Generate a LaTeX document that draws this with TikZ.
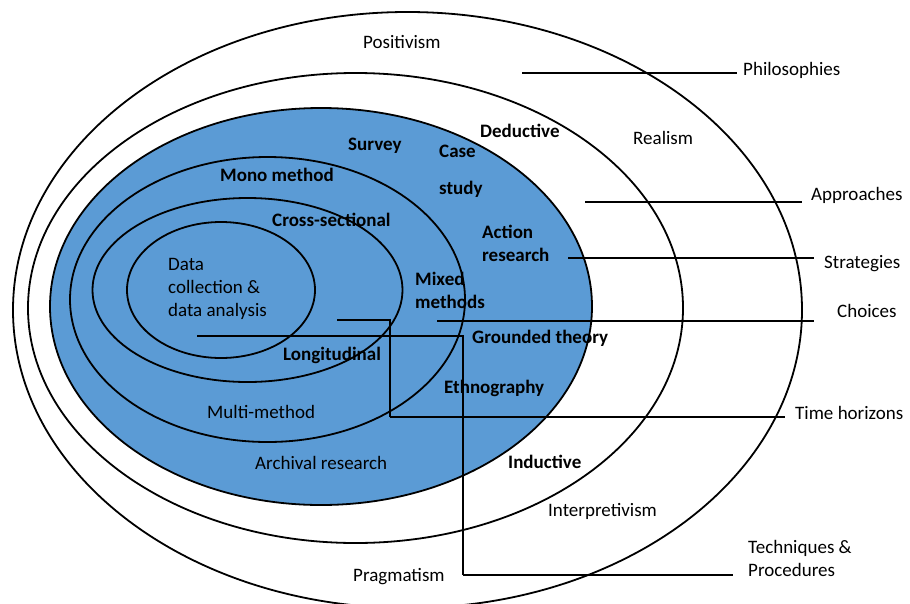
\documentclass[tikz,border=0pt]{standalone}
\usepackage{fontspec}
\setmainfont{Carlito}
\definecolor{onionblue}{RGB}{91,155,213}
\tikzset{
  ring/.style={draw=black, line width=1.8pt},
  lbl/.style={inner sep=0pt, anchor=west, align=left, font=\fontsize{19}{23}\selectfont},
  bld/.style={lbl, font=\fontsize{19}{23}\selectfont\bfseries},
  tag/.style={lbl},
  link/.style={draw=black, line width=2pt, line join=miter},
}
\begin{document}
\begin{tikzpicture}[x=1pt, y=-1pt]
\useasboundingbox (0,0) rectangle (910,603);

% nested layers of the onion
\draw[ring] (407.5,310) ellipse [x radius=394.5pt, y radius=298pt];
\draw[ring] (355.5,308) ellipse [x radius=327.5pt, y radius=235pt];
\draw[ring, fill=onionblue] (321,306.5) ellipse [x radius=271pt, y radius=198.5pt];
\draw[ring] (267.5,299.5) ellipse [x radius=197.5pt, y radius=142.5pt];
\draw[ring] (247.5,290) ellipse [x radius=155pt, y radius=92pt];
\draw[ring] (221,290) ellipse [x radius=94pt, y radius=68pt];

% layer contents
\node[lbl] (positivism) at (363,42) {Positivism};
\node[lbl] (realism) at (633,138) {Realism};
\node[lbl] (interpretivism) at (548,511) {Interpretivism};
\node[lbl] (pragmatism) at (353,577) {Pragmatism};
\node[bld] (deductive) at (480,131) {Deductive};
\node[bld] (inductive) at (508,462) {Inductive};
\node[bld] (survey) at (348,146) {Survey};
\node[bld] (casestudy) at (439,171.5) {Case\\[14pt]study};
\node[bld] (action) at (482,243.5) {Action\\research};
\node[bld] (grounded) at (472,338) {Grounded theory};
\node[bld] (ethno) at (444,388) {Ethnography};
\node[lbl] (archival) at (255,463) {Archival research};
\node[bld] (mono) at (220,175) {Mono method};
\node[bld] (mixed) at (415,290) {Mixed\\methods};
\node[lbl] (multi) at (207,412) {Multi-method};
\node[bld] (cross) at (272,220) {Cross-sectional};
\node[bld] (longi) at (283,355) {Longitudinal};
\node[lbl] (datacol) at (168,288.5) {Data\\collection \&\\data analysis};

% layer names on the right
\node[tag] (philo) at (743,70) {Philosophies};
\node[tag] (approach) at (811,195) {Approaches};
\node[tag] (strat) at (824,264) {Strategies};
\node[tag] (choice) at (837,311) {Choices};
\node[tag] (timeh) at (795,413) {Time horizons};
\node[tag] (techn) at (748,558.5) {Techniques \&\\Procedures};

% leader start points
\coordinate (philoS) at (522,73);
\coordinate (approachS) at (585,202);
\coordinate (stratS) at (568,258);
\coordinate (choiceS) at (437,321);
\coordinate (timeS) at (337,320);
\coordinate (timeK1) at (390,320);
\coordinate (timeK2) at (390,417);
\coordinate (technS) at (197,336);
\coordinate (technK1) at (463,336);
\coordinate (technK2) at (463,575);

% leaders
\draw[link, shorten >=6pt] (philoS) -- (philoS -| philo.west);
\draw[link, shorten >=9pt] (approachS) -- (approachS -| approach.west);
\draw[link, shorten >=10pt] (stratS) -- (stratS -| strat.west);
\draw[link, shorten >=23pt] (choiceS) -- (choiceS -| choice.west);
\draw[link] (timeS) -- (timeK1) -- (timeK2);
\draw[link, shorten >=10pt] (timeK2) -- (timeK2 -| timeh.west);
\draw[link] (technS) -- (technK1) -- (technK2);
\draw[link, shorten >=15pt] (technK2) -- (technK2 -| techn.west);
\end{tikzpicture}
\end{document}
